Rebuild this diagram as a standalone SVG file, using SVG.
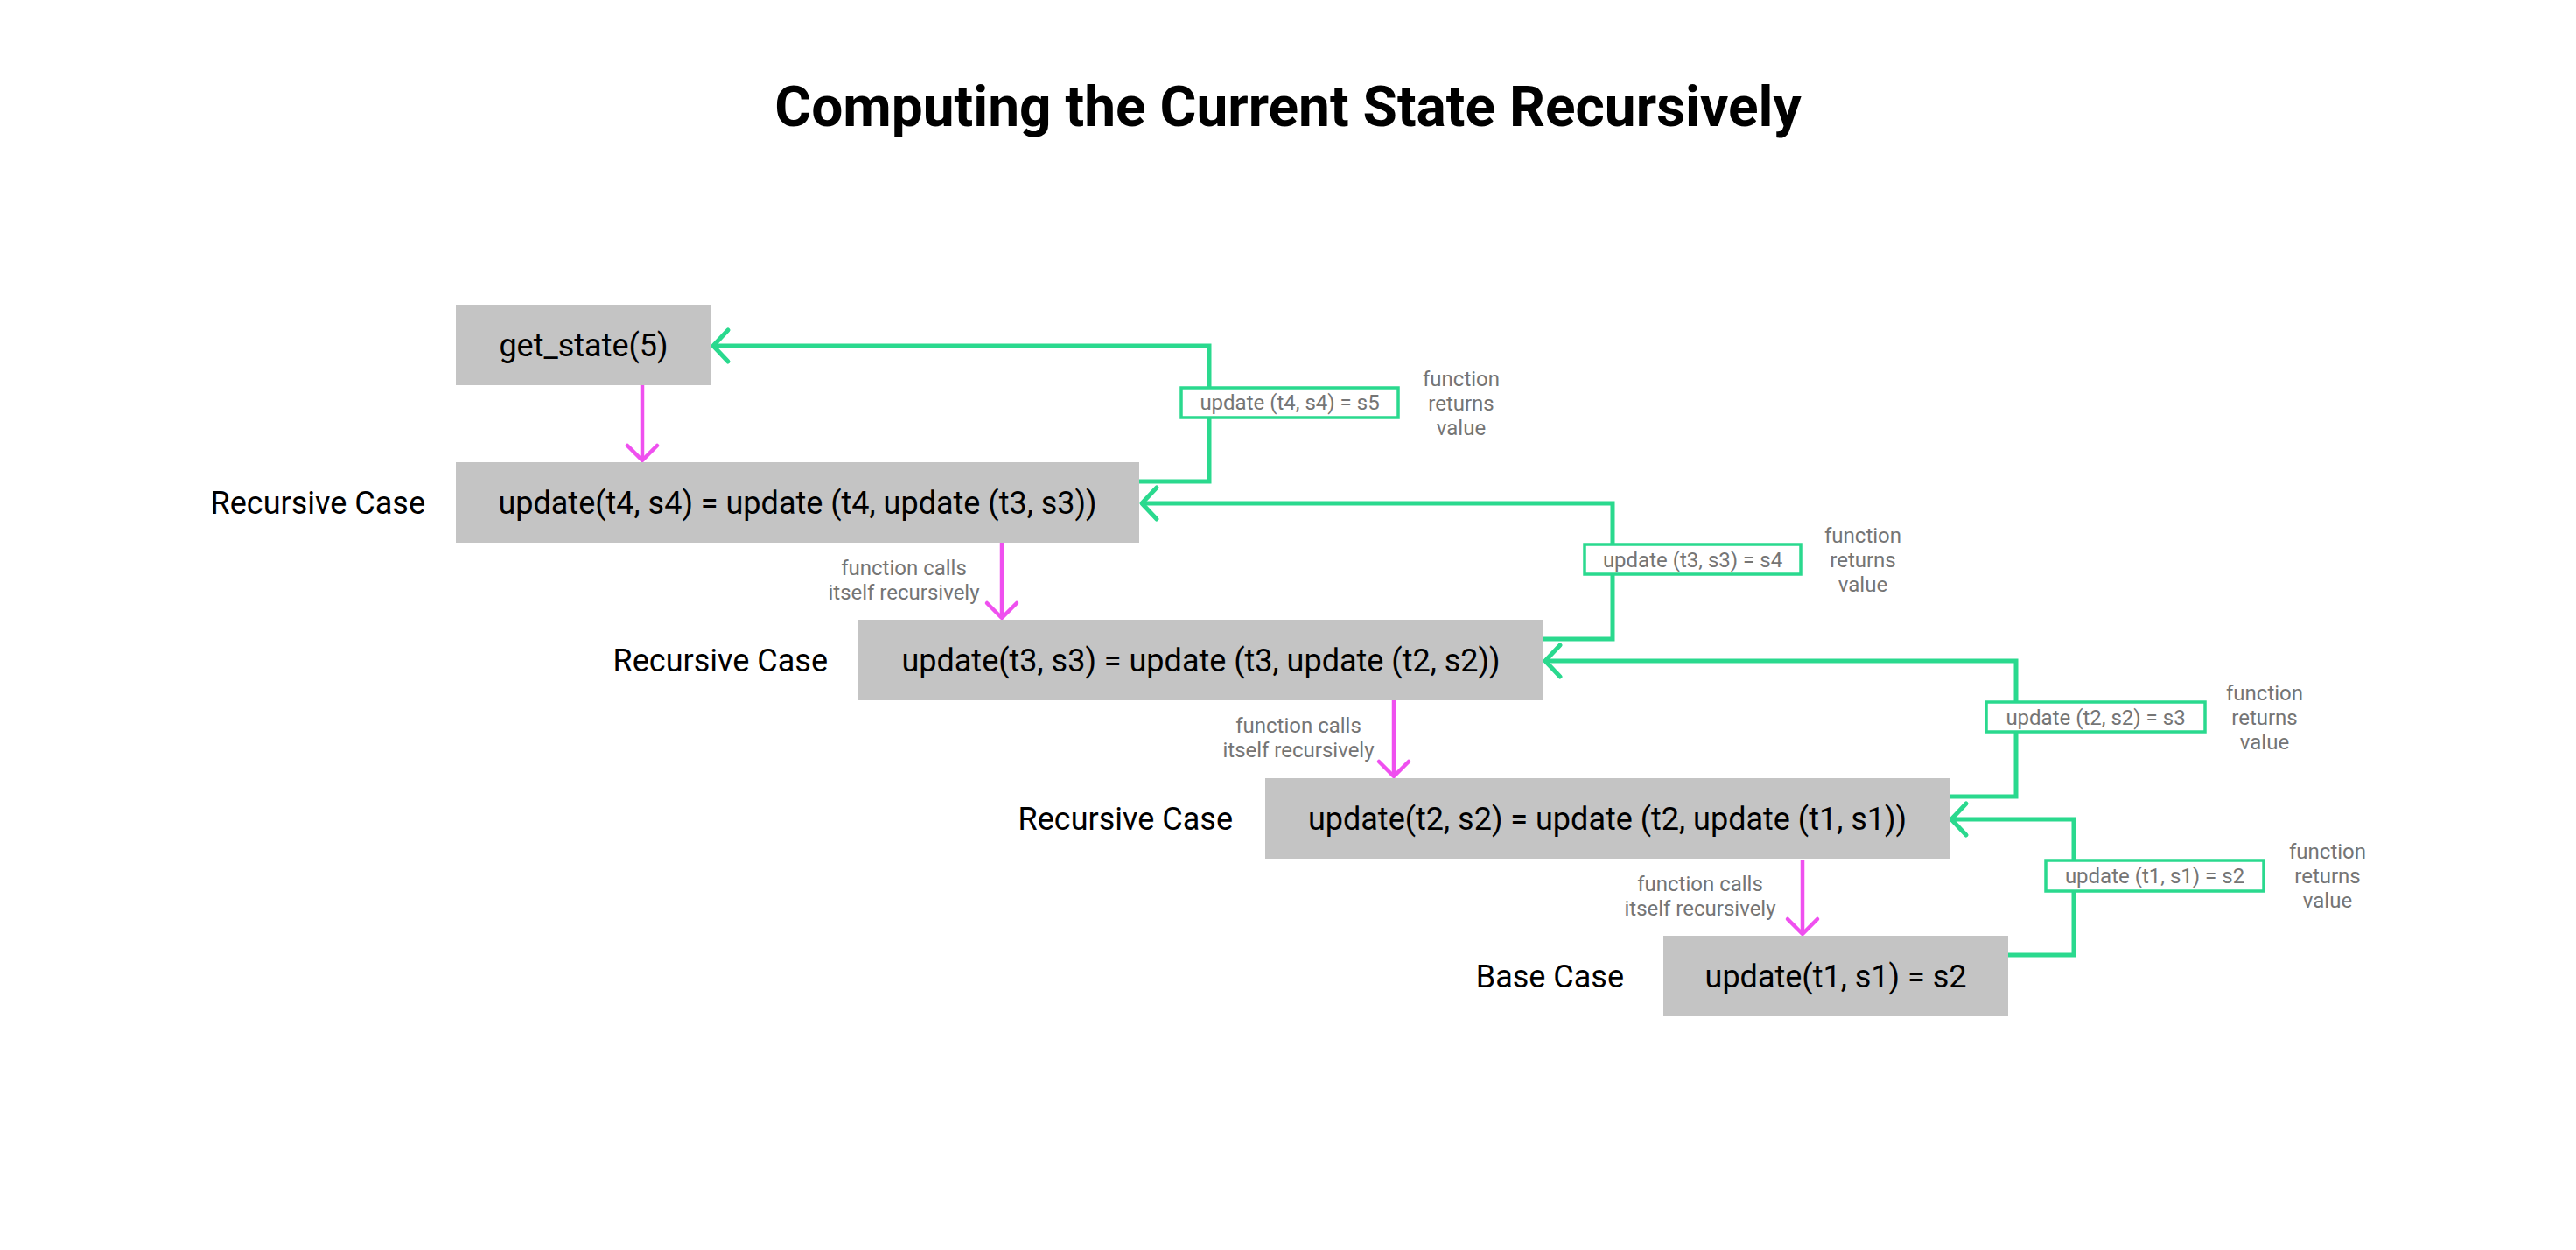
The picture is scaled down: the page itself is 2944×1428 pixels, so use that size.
<svg xmlns="http://www.w3.org/2000/svg" width="2944" height="1428" viewBox="0 0 2944 1428">
<style>
text { font-family: Roboto, "Liberation Sans", sans-serif; }
.title { font-size: 64px; font-weight: 700; fill: #000; text-anchor: middle; }
.box { fill: #C4C4C4; }
.ntext { font-size: 36px; fill: #000; text-anchor: middle; }
.case { font-size: 36px; fill: #000; text-anchor: end; }
.note { font-size: 24px; fill: #757575; text-anchor: middle; }
.lbox { fill: #FFFFFF; stroke: #2AD98E; stroke-width: 3.5; }
.ret { fill: none; stroke: #2AD98E; stroke-width: 5; marker-end: url(#ag); }
.call { fill: none; stroke: #EF50EF; stroke-width: 4.5; marker-end: url(#ap); }
</style>
<defs>
<marker id="ag" markerUnits="userSpaceOnUse" viewBox="-24 -24 48 48" markerWidth="48" markerHeight="48" refX="0" refY="0" orient="auto" overflow="visible">
<path d="M-17,-18 L0,0 L-17,18" fill="none" stroke="#2AD98E" stroke-width="5" stroke-linecap="round" stroke-linejoin="round"/>
</marker>
<marker id="ap" markerUnits="userSpaceOnUse" viewBox="-24 -24 48 48" markerWidth="48" markerHeight="48" refX="0" refY="0" orient="auto" overflow="visible">
<path d="M-17,-17 L0,0 L-17,17" fill="none" stroke="#EF50EF" stroke-width="4.5" stroke-linecap="round" stroke-linejoin="round"/>
</marker>
</defs>
<rect x="0" y="0" width="2944" height="1428" fill="#FFFFFF"/>
<text class="title" x="1472" y="144">Computing the Current State Recursively</text>

<g id="connectors">
<path class="call" d="M734,440 V526"/>
<path class="call" d="M1145,620 V706"/>
<path class="call" d="M1593,800 V887"/>
<path class="call" d="M2060,982 V1067"/>
<path class="ret" d="M1302,550 H1382 V395 H815"/>
<path class="ret" d="M1764,730 H1843 V575 H1305"/>
<path class="ret" d="M2228,910 H2304 V755 H1766"/>
<path class="ret" d="M2295,1091 H2370 V936 H2230"/>
</g>

<g id="node-get-state">
<rect class="box" x="521" y="348" width="292" height="92"/>
<text class="ntext" x="667" y="407">get_state(5)</text>
</g>
<g id="node-update-t4">
<rect class="box" x="521" y="528" width="781" height="92"/>
<text class="ntext" x="911.5" y="587">update(t4, s4) = update (t4, update (t3, s3))</text>
</g>
<g id="node-update-t3">
<rect class="box" x="981" y="708" width="783" height="92"/>
<text class="ntext" x="1372.5" y="767">update(t3, s3) = update (t3, update (t2, s2))</text>
</g>
<g id="node-update-t2">
<rect class="box" x="1446" y="889" width="782" height="92"/>
<text class="ntext" x="1837" y="948">update(t2, s2) = update (t2, update (t1, s1))</text>
</g>
<g id="node-base">
<rect class="box" x="1901" y="1069" width="394" height="92"/>
<text class="ntext" x="2098" y="1128">update(t1, s1) = s2</text>
</g>

<g id="case-labels">
<text class="case" x="486" y="587">Recursive Case</text>
<text class="case" x="946" y="767">Recursive Case</text>
<text class="case" x="1409" y="948">Recursive Case</text>
<text class="case" x="1856" y="1128">Base Case</text>
</g>

<g id="return-label-1">
<rect class="lbox" x="1350" y="443" width="248" height="34"/>
<text class="note" x="1474" y="468">update (t4, s4) = s5</text>
</g>
<g id="return-label-2">
<rect class="lbox" x="1811" y="622" width="247" height="34"/>
<text class="note" x="1934.5" y="648">update (t3, s3) = s4</text>
</g>
<g id="return-label-3">
<rect class="lbox" x="2270" y="802" width="250" height="34"/>
<text class="note" x="2395" y="828">update (t2, s2) = s3</text>
</g>
<g id="return-label-4">
<rect class="lbox" x="2338" y="983" width="249" height="35"/>
<text class="note" x="2462.5" y="1009">update (t1, s1) = s2</text>
</g>

<g id="notes-returns">
<text class="note" x="1670" y="441">function</text>
<text class="note" x="1670" y="469">returns</text>
<text class="note" x="1670" y="497">value</text>
<text class="note" x="2129" y="620">function</text>
<text class="note" x="2129" y="648">returns</text>
<text class="note" x="2129" y="676">value</text>
<text class="note" x="2588" y="800">function</text>
<text class="note" x="2588" y="828">returns</text>
<text class="note" x="2588" y="856">value</text>
<text class="note" x="2660" y="981">function</text>
<text class="note" x="2660" y="1009">returns</text>
<text class="note" x="2660" y="1037">value</text>
</g>

<g id="notes-calls">
<text class="note" x="1033" y="657">function calls</text>
<text class="note" x="1033" y="685">itself recursively</text>
<text class="note" x="1484" y="837">function calls</text>
<text class="note" x="1484" y="865">itself recursively</text>
<text class="note" x="1943" y="1018">function calls</text>
<text class="note" x="1943" y="1046">itself recursively</text>
</g>
</svg>
